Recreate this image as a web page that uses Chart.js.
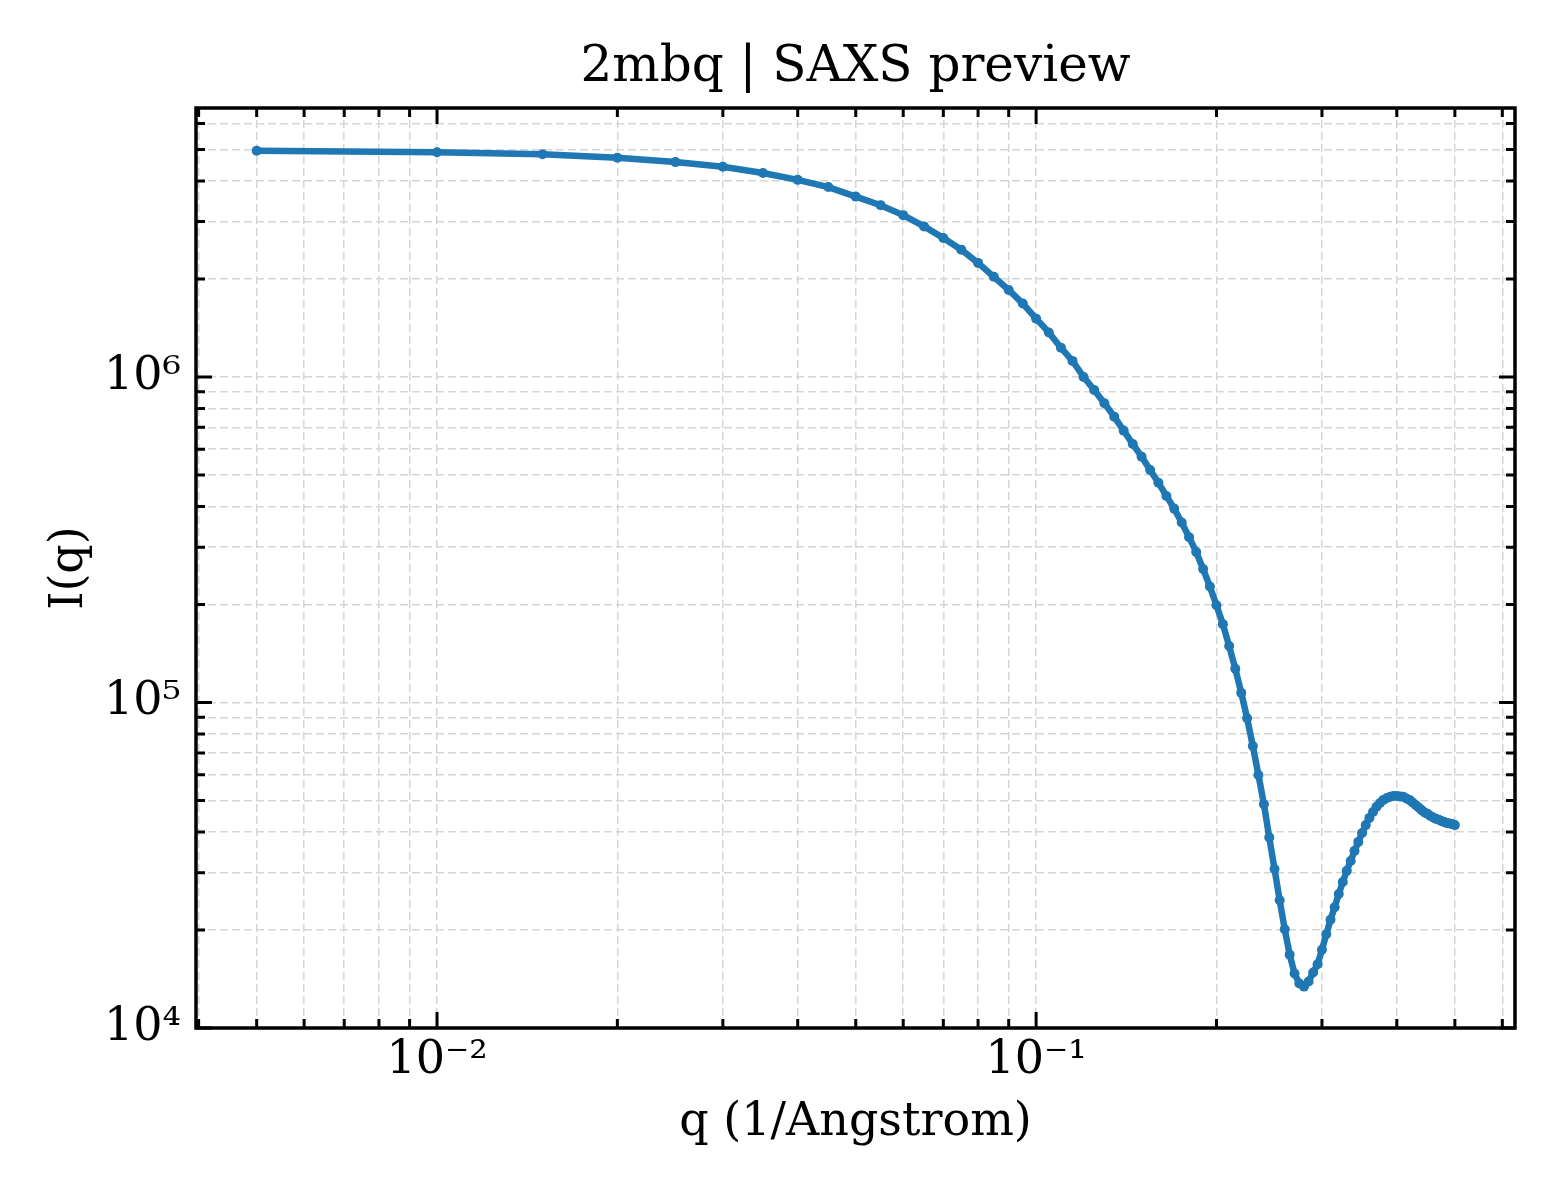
<!DOCTYPE html>
<html>
<head>
<meta charset="utf-8">
<title>2mbq | SAXS preview</title>
<script src="https://cdn.jsdelivr.net/npm/chart.js@4.4.1/dist/chart.umd.min.js"></script>
<style>
  html, body { margin: 0; padding: 0; background: #fff; }
  #wrap { width: 1560px; height: 1200px; }
</style>
</head>
<body>
<div id="wrap"><canvas id="saxs" width="1560" height="1200"></canvas></div>
<script>
// scattering vector q (1/Angstrom)
const qValues = [
  0.005, 0.010, 0.015, 0.020, 0.025, 0.030, 0.035, 0.040, 0.045, 0.050,
  0.055, 0.060, 0.065, 0.070, 0.075, 0.080, 0.085, 0.090, 0.095, 0.100,
  0.105, 0.110, 0.115, 0.120, 0.125, 0.130, 0.135, 0.140, 0.145, 0.150,
  0.155, 0.160, 0.165, 0.170, 0.175, 0.180, 0.185, 0.190, 0.195, 0.200,
  0.205, 0.210, 0.215, 0.220, 0.225, 0.230, 0.235, 0.240, 0.245, 0.250,
  0.255, 0.260, 0.265, 0.270, 0.275, 0.280, 0.285, 0.290, 0.295, 0.300,
  0.305, 0.310, 0.315, 0.320, 0.325, 0.330, 0.335, 0.340, 0.345, 0.350,
  0.355, 0.360, 0.365, 0.370, 0.375, 0.380, 0.385, 0.390, 0.395, 0.400,
  0.405, 0.410, 0.415, 0.420, 0.425, 0.430, 0.435, 0.440, 0.445, 0.450,
  0.455, 0.460, 0.465, 0.470, 0.475, 0.480, 0.485, 0.490, 0.495, 0.500
];

// I(q)
const intensity = [
  4.95e6, 4.90e6, 4.83e6, 4.71e6, 4.57e6, 4.42e6, 4.23e6, 4.03e6, 3.83e6, 3.58e6,
  3.37e6, 3.14e6, 2.90e6, 2.67e6, 2.46e6, 2.24e6, 2.03e6, 1.85e6, 1.68e6, 1.51e6,
  1.37e6, 1.23e6, 1.12e6, 1.00e6, 9.12e5, 8.30e5, 7.55e5, 6.84e5, 6.22e5, 5.69e5,
  5.18e5, 4.73e5, 4.31e5, 3.94e5, 3.57e5, 3.22e5, 2.90e5, 2.57e5, 2.27e5, 1.99e5,
  1.74e5, 1.49e5, 1.27e5, 1.07e5, 8.94e4, 7.35e4, 5.99e4, 4.87e4, 3.85e4, 3.08e4,
  2.47e4, 2.01e4, 1.68e4, 1.47e4, 1.37e4, 1.34e4, 1.39e4, 1.48e4, 1.57e4, 1.74e4,
  1.94e4, 2.15e4, 2.35e4, 2.58e4, 2.81e4, 3.04e4, 3.26e4, 3.50e4, 3.73e4, 3.97e4,
  4.20e4, 4.42e4, 4.61e4, 4.78e4, 4.91e4, 5.02e4, 5.09e4, 5.13e4, 5.16e4, 5.16e4,
  5.14e4, 5.13e4, 5.07e4, 5.02e4, 4.93e4, 4.84e4, 4.76e4, 4.67e4, 4.59e4, 4.55e4,
  4.48e4, 4.43e4, 4.39e4, 4.36e4, 4.32e4, 4.29e4, 4.26e4, 4.25e4, 4.23e4, 4.20e4
];

// tick positions (major decades + minor 2..9)
const xTicks = [
  0.004, 0.005, 0.006, 0.007, 0.008, 0.009,
  0.01, 0.02, 0.03, 0.04, 0.05, 0.06, 0.07, 0.08, 0.09,
  0.1, 0.2, 0.3, 0.4, 0.5, 0.6
];
const yTicks = [
  1e4, 2e4, 3e4, 4e4, 5e4, 6e4, 7e4, 8e4, 9e4,
  1e5, 2e5, 3e5, 4e5, 5e5, 6e5, 7e5, 8e5, 9e5,
  1e6, 2e6, 3e6, 4e6, 5e6, 6e6
];

const serif = "'DejaVu Serif', 'Liberation Serif', serif";
const supChars = { '-': '\u207B', '0': '\u2070', '1': '\u00B9', '2': '\u00B2', '3': '\u00B3',
  '4': '\u2074', '5': '\u2075', '6': '\u2076', '7': '\u2077', '8': '\u2078', '9': '\u2079' };

function isDecade(v) {
  const l = Math.log10(v);
  return Math.abs(l - Math.round(l)) < 1e-9;
}

function powerLabel(v) {
  if (!isDecade(v)) return '';
  const e = String(Math.round(Math.log10(v)));
  return '10' + e.split('').map(c => supChars[c]).join('');
}

// matplotlib-style frame with inward ticks on all four sides
const innerTicks = {
  id: 'innerTicks',
  afterDraw(chart) {
    const { ctx, chartArea: a } = chart;
    const xs = chart.scales.x, ys = chart.scales.y;
    ctx.save();
    ctx.strokeStyle = '#000';
    ctx.lineWidth = 3;
    ctx.beginPath();
    xs.ticks.forEach(t => {
      const px = xs.getPixelForValue(t.value);
      const len = isDecade(t.value) ? 16 : 9;
      ctx.moveTo(px, a.bottom); ctx.lineTo(px, a.bottom - len);
      ctx.moveTo(px, a.top); ctx.lineTo(px, a.top + len);
    });
    ys.ticks.forEach(t => {
      const py = ys.getPixelForValue(t.value);
      const len = isDecade(t.value) ? 16 : 9;
      ctx.moveTo(a.left, py); ctx.lineTo(a.left + len, py);
      ctx.moveTo(a.right, py); ctx.lineTo(a.right - len, py);
    });
    ctx.stroke();
    ctx.lineWidth = 3.5;
    ctx.strokeRect(a.left, a.top, a.right - a.left, a.bottom - a.top);
    ctx.restore();
  }
};

const points = qValues.map((q, i) => ({ x: q, y: intensity[i] }));

new Chart(document.getElementById('saxs'), {
  type: 'line',
  data: {
    datasets: [{
      label: 'I(q)',
      data: points,
      borderColor: '#1f77b4',
      backgroundColor: '#1f77b4',
      borderWidth: 6.5,
      pointRadius: 5,
      pointBorderWidth: 0,
      tension: 0,
      fill: false
    }]
  },
  options: {
    responsive: false,
    animation: false,
    devicePixelRatio: 1,
    layout: { padding: { left: 0, right: 45, top: 0, bottom: 0 } },
    plugins: {
      legend: { display: false },
      tooltip: { enabled: false },
      title: {
        display: true,
        fullSize: false,
        text: '2mbq | SAXS preview',
        color: '#000',
        font: { family: serif, size: 50, weight: 'normal' },
        padding: { top: 38, bottom: 10 }
      }
    },
    scales: {
      x: {
        type: 'logarithmic',
        min: 0.00396,
        max: 0.630,
        afterBuildTicks: s => { s.ticks = xTicks.map(v => ({ value: v })); },
        afterFit: s => { s.height = 172; },
        ticks: {
          autoSkip: false,
          maxRotation: 0,
          padding: 5,
          color: '#000',
          font: { family: serif, size: 46 },
          callback: v => powerLabel(v)
        },
        grid: { color: '#d6d6d6', lineWidth: 1.5, drawTicks: false },
        border: { display: false, dash: [8, 4] },
        title: {
          display: true,
          text: 'q (1/Angstrom)',
          color: '#000',
          font: { family: serif, size: 46 },
          padding: { top: 0, bottom: 49 }
        }
      },
      y: {
        type: 'logarithmic',
        min: 1e4,
        max: 6.70e6,
        afterBuildTicks: s => { s.ticks = yTicks.map(v => ({ value: v })); },
        afterFit: s => { s.width = 196; },
        ticks: {
          autoSkip: false,
          padding: 15,
          color: '#000',
          font: { family: serif, size: 46 },
          callback: v => powerLabel(v)
        },
        grid: { color: '#d6d6d6', lineWidth: 1.5, drawTicks: false },
        border: { display: false, dash: [8, 4] },
        title: {
          display: true,
          text: 'I(q)',
          color: '#000',
          font: { family: serif, size: 46 },
          padding: { top: 42, bottom: 0 }
        }
      }
    }
  },
  plugins: [innerTicks]
});
</script>
</body>
</html>
